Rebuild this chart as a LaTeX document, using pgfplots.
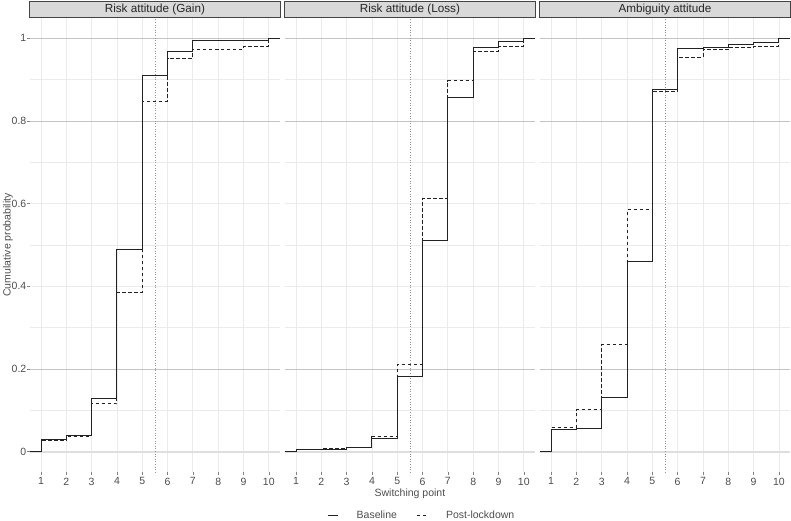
\documentclass[border=0pt]{standalone}
\usepackage{pgfplots}
\pgfplotsset{compat=1.18}
\usepackage{fontspec}
\setmainfont{Liberation Sans}
\definecolor{gridc}{HTML}{EBEBEB}
\definecolor{refc}{HTML}{C4C4C4}
\definecolor{zeroc}{HTML}{DEDEDE}
\definecolor{textgrey}{HTML}{4D4D4D}
\definecolor{stripfill}{HTML}{D9D9D9}
\definecolor{stripdraw}{HTML}{444444}
\definecolor{linec}{HTML}{222222}
\pgfplotsset{
 panel/.style={
  scale only axis, width=250.6pt, height=454.8pt,
  xmin=0.55, xmax=10.45, ymin=-0.05, ymax=1.05,
  axis line style={draw=none},
  xtick={1,2,3,4,5,6,7,8,9,10},
  ytick={0,0.2,0.4,0.6,0.8,1},
  minor ytick={0.1,0.3,0.5,0.7,0.9},
  grid=both,
  major grid style={color=gridc, line width=0.8pt},
  minor grid style={color=gridc, line width=0.5pt},
  tick pos=lower, tick align=outside,
  major tick length=2.75pt, minor tick length=0pt,
  tick style={color=textgrey!70, line width=0.5pt},
  /pgf/number format/assume math mode=true,
  tick label style={font=\fontsize{10.5}{12}\selectfont, text=textgrey},
  yticklabel style={xshift=3pt},
  xticklabel style={yshift=1pt},
 },
 base/.style={const plot mark left, no marks, color=linec, line width=0.9pt,
   legend image code/.code={\draw[color=linec, line width=0.9pt] (0pt,0pt) -- (10pt,0pt);}},
 post/.style={const plot mark left, no marks, color=linec, line width=0.9pt, dash pattern=on 3.5pt off 2.5pt,
   legend image code/.code={\draw[color=linec, line width=0.9pt, dash pattern=on 3.5pt off 2.5pt] (0pt,0pt) -- (10pt,0pt);}},
 refl/.style={no marks, color=refc, line width=0.8pt, forget plot},
 zerol/.style={no marks, color=zeroc, line width=1.6pt, forget plot},
 vl/.style={no marks, color=gray!85, line width=0.6pt, dotted, forget plot},
}
\newcommand{\reflines}{%
 \addplot[zerol] coordinates {(0.55,0) (10.45,0)};
 \addplot[refl] coordinates {(0.55,0.2) (10.45,0.2)};
 \addplot[refl] coordinates {(0.55,0.8) (10.45,0.8)};
 \addplot[refl] coordinates {(0.55,1) (10.45,1)};
 \addplot[vl] coordinates {(5.5,-0.05) (5.5,1.05)};
}
\begin{document}
\begin{tikzpicture}
\path[use as bounding box] (0,0) rectangle (791pt,520pt);
% Panel 1
\begin{axis}[panel, name=p1, at={(29.6pt,47.6pt)}, anchor=south west]
\reflines
\addplot[base] coordinates {(0.55,0) (1,0.030) (2,0.040) (3,0.130) (4,0.489) (5,0.909) (6,0.969) (7,0.994) (8,0.994) (9,0.994) (10,1) (10.45,1)};
\addplot[post] coordinates {(0.55,0) (1,0.028) (2,0.038) (3,0.116) (4,0.386) (5,0.848) (6,0.951) (7,0.974) (8,0.974) (9,0.981) (10,1) (10.45,1)};
\end{axis}
% Panel 2
\begin{axis}[panel, name=p2, at={(284.6pt,47.6pt)}, anchor=south west,
  yticklabels={}, ytick style={draw=none},
  legend style={at={(0.169,-0.0952)}, anchor=west, draw=none, fill=none, inner sep=0pt,
    legend columns=2, font=\fontsize{10.5}{12}\selectfont, text=textgrey,
    /tikz/every odd column/.append style={column sep=16.6pt},
    /tikz/every even column/.append style={column sep=17.6pt}},
  legend cell align=left]
\reflines
\addplot[base] coordinates {(0.55,0) (1,0.006) (2,0.006) (3,0.011) (4,0.033) (5,0.182) (6,0.510) (7,0.858) (8,0.979) (9,0.993) (10,1) (10.45,1)};
\addlegendentry{Baseline}
\addplot[post] coordinates {(0.55,0) (1,0.006) (2,0.008) (3,0.011) (4,0.036) (5,0.210) (6,0.613) (7,0.897) (8,0.968) (9,0.981) (10,1) (10.45,1)};
\addlegendentry{Post-lockdown}
\end{axis}
% Panel 3
\begin{axis}[panel, name=p3, at={(539.7pt,47.6pt)}, anchor=south west,
  yticklabels={}, ytick style={draw=none}]
\reflines
\addplot[base] coordinates {(0.55,0) (1,0.055) (2,0.057) (3,0.132) (4,0.461) (5,0.876) (6,0.975) (7,0.979) (8,0.985) (9,0.990) (10,1) (10.45,1)};
\addplot[post] coordinates {(0.55,0) (1,0.058) (2,0.102) (3,0.259) (4,0.585) (5,0.872) (6,0.954) (7,0.974) (8,0.978) (9,0.981) (10,1) (10.45,1)};
\end{axis}
% strips
\foreach \p/\t in {p1/Risk attitude (Gain), p2/Risk attitude (Loss), p3/Ambiguity attitude}{
  \draw[fill=stripfill, draw=stripdraw, line width=0.5pt] (\p.north west) rectangle ([yshift=16.6pt]\p.north east);
  \node[font=\fontsize{11.7}{13}\selectfont, text=black!85, anchor=center] at ([yshift=8.3pt]\p.north) {\t};
}
\node[font=\fontsize{10.5}{12}\selectfont, text=textgrey] at ([yshift=-21.6pt]p2.south) {Switching point};
\node[font=\fontsize{10.5}{12}\selectfont, text=textgrey, rotate=90] at ([xshift=-21.6pt]p1.west) {Cumulative probability};
\end{tikzpicture}
\end{document}
